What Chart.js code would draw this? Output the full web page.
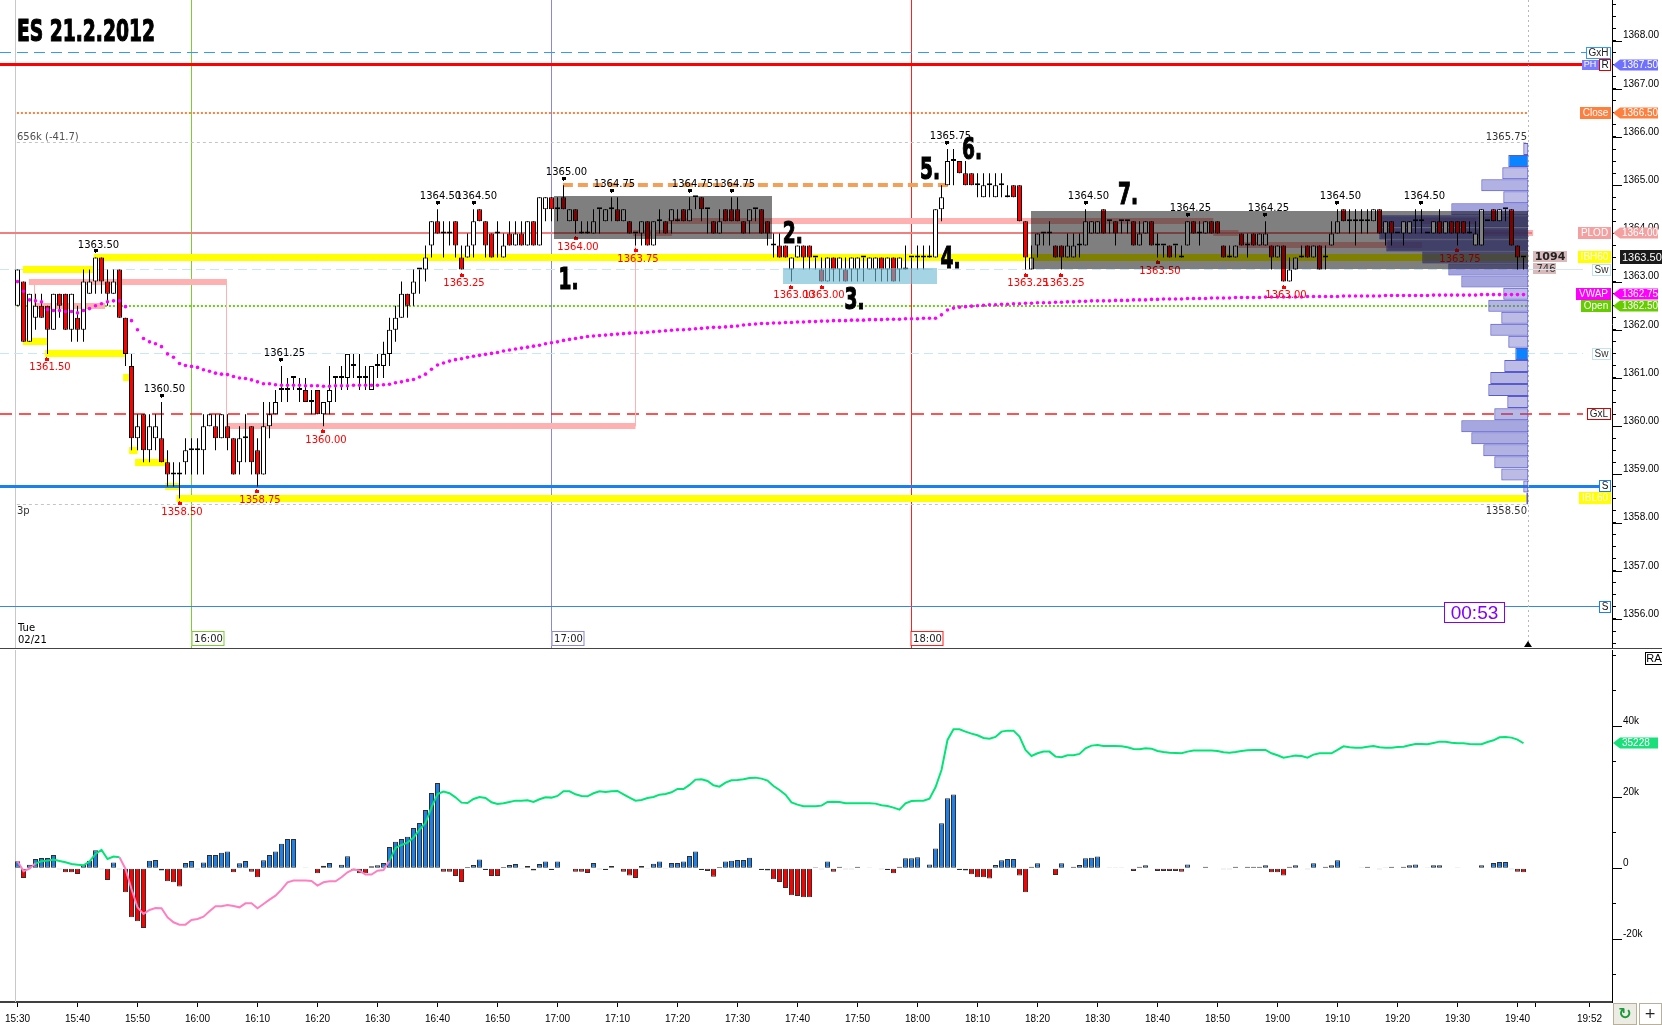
<!DOCTYPE html>
<html><head><meta charset="utf-8">
<script src="https://cdn.jsdelivr.net/npm/chart.js@4.4.1/dist/chart.umd.min.js"></script>
<style>
html,body{margin:0;padding:0;background:#fff;overflow:hidden}
#wrap{position:relative;width:1662px;height:1025px;background:#fff}
#top{position:absolute;left:0;top:0}
#bot{position:absolute;left:0;top:648px}
</style></head><body>
<div id="wrap">
<canvas id="top" width="1662" height="648"></canvas>
<canvas id="bot" width="1662" height="377"></canvas>
</div>
<script>
// ===== DATA (1-minute bars from 15:30) =====
const opens = [
1362.5,1363.0,1361.75,1362.25,1362.5,1362.5,1362.0,1362.75,1362.75,1362.0,1362.25,1362.0,
1362.75,1363.0,1363.5,1363.0,1362.75,1363.25,1362.25,1361.25,1359.75,1360.25,1359.5,1359.75,
1359.75,1359.25,1359.0,1359.0,1359.25,1359.5,1359.5,1359.5,1360.0,1360.0,1359.75,1360.0,
1359.75,1359.25,1359.75,1360.0,1359.5,1359.0,1360.0,1360.25,1360.75,1360.75,1361.0,1360.75,
1360.75,1360.5,1360.75,1360.25,1360.5,1361.0,1361.0,1361.0,1361.25,1361.0,1361.0,1360.75,
1361.25,1361.25,1361.5,1362.0,1362.25,1362.75,1362.75,1363.25,1363.25,1363.75,1364.25,1364.0,
1364.0,1364.25,1363.5,1363.5,1363.75,1364.5,1364.25,1364.0,1364.0,1363.5,1364.0,1363.75,
1364.0,1363.75,1364.25,1363.75,1364.5,1364.75,1364.5,1364.75,1364.25,1364.5,1364.0,1364.0,
1364.0,1364.5,1364.25,1364.5,1364.5,1364.25,1364.25,1364.0,1364.0,1364.25,1363.75,1364.25,
1364.25,1364.25,1364.25,1364.5,1364.25,1364.75,1364.75,1364.5,1364.25,1364.0,1364.5,1364.5,
1364.5,1364.25,1364.25,1364.5,1364.5,1364.25,1363.75,1363.75,1363.75,1363.25,1363.5,1363.75,
1363.75,1363.5,1363.25,1363.0,1363.5,1363.25,1363.25,1363.25,1363.25,1363.5,1363.25,1363.25,
1363.5,1363.25,1363.5,1363.25,1363.25,1363.5,1363.5,1363.5,1363.5,1363.5,1364.5,1365.0,
1365.5,1365.5,1365.25,1365.25,1365.0,1364.75,1365.0,1364.75,1365.0,1364.75,1365.0,1365.0,
1364.25,1363.25,1363.75,1364.0,1364.0,1363.75,1363.75,1363.5,1363.5,1363.75,1363.75,1364.0,
1364.0,1364.5,1364.25,1364.25,1364.25,1364.25,1364.25,1363.75,1364.0,1364.25,1363.75,1363.75,
1363.75,1363.75,1363.5,1363.75,1364.25,1364.0,1364.0,1364.25,1364.25,1363.75,1363.5,1363.5,
1364.0,1363.75,1364.0,1363.75,1363.75,1363.75,1363.5,1363.75,1363.0,1363.25,1363.5,1363.75,
1363.5,1363.75,1363.5,1363.75,1364.0,1364.5,1364.25,1364.25,1364.25,1364.25,1364.25,1364.5,
1364.0,1364.25,1364.0,1364.0,1364.0,1364.25,1364.25,1364.0,1364.0,1364.25,1364.0,1364.25,
1364.25,1364.25,1364.0,1363.75,1363.75,1364.25,1364.5,1364.25,1364.5,1364.5,1363.75,1363.5];
const highs = [
1363.25,1363.0,1362.75,1362.75,1362.75,1362.5,1362.75,1362.75,1362.75,1362.75,1362.5,1363.25,
1363.25,1363.5,1363.5,1363.25,1363.25,1363.25,1362.25,1361.5,1360.25,1360.25,1360.25,1360.25,
1360.5,1359.5,1359.25,1359.25,1359.75,1359.75,1359.75,1360.25,1360.25,1360.25,1360.25,1360.25,
1359.75,1360.0,1360.25,1360.0,1359.75,1360.5,1360.5,1360.75,1361.25,1361.0,1361.0,1361.0,
1361.0,1360.75,1360.75,1360.5,1361.25,1361.0,1361.25,1361.5,1361.5,1361.5,1361.25,1361.25,
1361.5,1361.75,1362.25,1362.5,1363.0,1362.75,1363.25,1363.25,1363.75,1364.25,1364.5,1364.25,
1364.25,1364.25,1363.75,1364.0,1364.5,1364.5,1364.25,1364.0,1364.25,1364.0,1364.25,1364.25,
1364.25,1364.25,1364.25,1364.75,1364.75,1364.75,1364.75,1365.0,1364.5,1364.5,1364.25,1364.25,
1364.5,1364.5,1364.5,1364.75,1364.75,1364.5,1364.25,1364.0,1364.25,1364.25,1364.25,1364.5,
1364.25,1364.5,1364.5,1364.5,1364.75,1364.75,1364.75,1364.5,1364.25,1364.5,1364.5,1364.75,
1364.75,1364.25,1364.5,1364.5,1364.5,1364.25,1364.0,1364.0,1363.75,1363.5,1363.75,1363.75,
1363.75,1363.5,1363.5,1363.5,1363.5,1363.5,1363.5,1363.5,1363.5,1363.5,1363.5,1363.5,
1363.5,1363.5,1363.5,1363.5,1363.75,1363.5,1363.75,1363.75,1363.75,1364.5,1365.0,1365.75,
1365.75,1365.5,1365.5,1365.25,1365.25,1365.25,1365.25,1365.25,1365.25,1365.0,1365.0,1365.0,
1364.25,1363.75,1364.0,1364.0,1364.25,1363.75,1363.75,1364.0,1364.0,1364.0,1364.5,1364.25,
1364.25,1364.5,1364.25,1364.25,1364.25,1364.25,1364.25,1364.25,1364.25,1364.25,1364.0,1363.75,
1363.75,1363.75,1363.75,1364.25,1364.25,1364.25,1364.25,1364.25,1364.25,1363.75,1363.75,1363.75,
1364.0,1364.0,1364.0,1364.0,1364.25,1363.75,1363.75,1363.75,1363.5,1363.5,1363.75,1363.75,
1363.75,1363.75,1363.75,1364.25,1364.5,1364.5,1364.5,1364.5,1364.5,1364.5,1364.5,1364.5,
1364.25,1364.25,1364.0,1364.25,1364.25,1364.5,1364.5,1364.0,1364.25,1364.5,1364.25,1364.25,
1364.25,1364.25,1364.25,1364.25,1364.5,1364.25,1364.5,1364.5,1364.5,1364.5,1363.75,1363.5];
const lows = [
1362.5,1361.75,1361.75,1362.0,1362.25,1361.5,1362.0,1362.25,1362.0,1361.75,1361.75,1361.75,
1362.75,1362.75,1362.75,1362.5,1362.75,1362.25,1361.25,1359.5,1359.5,1359.25,1359.25,1359.5,
1359.25,1358.75,1358.75,1358.5,1359.0,1359.0,1359.0,1359.0,1360.0,1359.5,1359.75,1359.5,
1359.0,1359.0,1359.25,1359.0,1358.75,1359.0,1359.75,1360.25,1360.5,1360.5,1360.75,1360.5,
1360.5,1360.25,1360.25,1360.0,1360.25,1360.5,1360.75,1360.75,1361.0,1360.75,1360.75,1360.75,
1361.0,1361.0,1361.25,1361.75,1362.25,1362.25,1362.5,1362.75,1363.0,1363.5,1364.0,1363.5,
1363.75,1363.5,1363.25,1363.5,1363.5,1364.25,1363.5,1363.5,1363.5,1363.5,1363.75,1363.75,
1363.75,1363.75,1363.75,1363.75,1364.25,1364.25,1364.25,1364.5,1364.25,1364.0,1364.0,1364.0,
1364.0,1364.0,1364.25,1364.25,1364.25,1364.25,1364.0,1363.75,1363.75,1363.75,1363.75,1364.0,
1364.0,1364.0,1364.25,1364.25,1364.25,1364.5,1364.25,1364.0,1364.0,1364.0,1364.25,1364.25,
1364.25,1364.0,1364.0,1364.25,1364.0,1363.75,1363.5,1363.5,1363.5,1363.0,1363.5,1363.25,
1363.25,1363.25,1363.0,1363.0,1363.0,1363.0,1363.0,1363.0,1363.0,1363.0,1363.25,1363.0,
1363.0,1363.0,1363.0,1363.0,1363.25,1363.25,1363.25,1363.25,1363.5,1363.5,1364.25,1365.0,
1365.0,1365.25,1365.0,1365.0,1364.75,1364.75,1364.75,1364.75,1364.75,1364.75,1364.75,1364.25,
1363.25,1363.25,1363.5,1363.75,1363.75,1363.5,1363.25,1363.5,1363.5,1363.5,1363.75,1364.0,
1364.0,1364.0,1364.0,1363.75,1364.0,1364.0,1363.75,1363.75,1364.0,1363.75,1363.5,1363.5,
1363.5,1363.5,1363.5,1363.75,1364.0,1363.75,1364.0,1364.0,1364.0,1363.5,1363.5,1363.5,
1363.75,1363.5,1363.75,1363.75,1363.75,1363.25,1363.5,1363.0,1363.0,1363.25,1363.5,1363.5,
1363.5,1363.25,1363.25,1363.75,1364.0,1364.25,1364.0,1363.75,1364.0,1364.0,1364.25,1364.0,
1363.75,1363.75,1364.0,1363.75,1364.0,1364.0,1364.0,1364.0,1364.0,1364.0,1364.0,1364.0,
1363.75,1364.0,1364.0,1363.75,1363.75,1364.25,1364.25,1364.25,1364.25,1363.75,1363.25,1363.25];
const closes = [
1363.25,1361.75,1362.75,1362.5,1362.25,1362.0,1362.75,1362.5,1362.0,1362.75,1362.0,1363.0,
1363.0,1363.5,1363.0,1362.75,1363.0,1362.25,1361.5,1359.75,1360.0,1359.5,1360.0,1360.0,
1359.25,1359.0,1359.0,1359.0,1359.5,1359.5,1359.5,1360.0,1360.25,1359.75,1360.25,1359.75,
1359.0,1359.75,1359.75,1359.25,1359.0,1360.0,1360.25,1360.5,1360.75,1360.75,1361.0,1360.75,
1360.5,1360.5,1360.25,1360.5,1360.75,1361.0,1361.0,1361.5,1361.25,1361.0,1361.0,1361.25,
1361.25,1361.5,1362.0,1362.25,1362.75,1362.5,1363.0,1363.25,1363.5,1364.25,1364.0,1364.0,
1364.0,1363.75,1363.25,1363.75,1364.25,1364.25,1363.75,1363.5,1364.0,1363.75,1363.75,1364.0,
1363.75,1364.25,1363.75,1364.75,1364.75,1364.5,1364.5,1364.5,1364.5,1364.25,1364.0,1364.0,
1364.25,1364.5,1364.5,1364.5,1364.25,1364.5,1364.0,1364.0,1364.25,1363.75,1364.25,1364.25,
1364.0,1364.5,1364.25,1364.25,1364.5,1364.75,1364.5,1364.5,1364.0,1364.25,1364.25,1364.25,
1364.25,1364.0,1364.5,1364.5,1364.0,1364.0,1363.75,1363.5,1363.5,1363.5,1363.75,1363.5,
1363.5,1363.5,1363.0,1363.5,1363.25,1363.5,1363.0,1363.5,1363.5,1363.5,1363.5,1363.5,
1363.25,1363.5,1363.0,1363.5,1363.25,1363.5,1363.5,1363.5,1363.5,1364.5,1364.75,1365.5,
1365.5,1365.25,1365.0,1365.0,1365.0,1365.0,1365.0,1365.0,1365.0,1364.75,1364.75,1364.25,
1363.5,1363.5,1364.0,1364.0,1364.0,1363.5,1363.5,1363.75,1363.75,1363.75,1364.25,1364.25,
1364.25,1364.0,1364.25,1364.0,1364.25,1364.25,1363.75,1364.0,1364.25,1363.75,1363.75,1363.75,
1363.5,1363.75,1363.5,1364.25,1364.0,1364.0,1364.25,1364.0,1364.0,1363.5,1363.5,1363.75,
1363.75,1363.75,1363.75,1364.0,1364.0,1363.5,1363.75,1363.0,1363.25,1363.5,1363.5,1363.5,
1363.75,1363.25,1363.5,1364.0,1364.25,1364.25,1364.25,1364.25,1364.25,1364.25,1364.5,1364.0,
1364.25,1364.0,1364.0,1364.25,1364.25,1364.25,1364.25,1364.0,1364.25,1364.0,1364.25,1364.0,
1364.0,1364.0,1364.0,1364.0,1364.5,1364.25,1364.25,1364.5,1364.5,1363.75,1363.5,1363.5];
const vwap = [
1363.0,1362.8,1362.62,1362.6,1362.58,1362.42,1362.4,1362.4,1362.38,1362.38,1362.35,1362.4,
1362.44,1362.5,1362.54,1362.58,1362.6,1362.6,1362.48,1362.19,1362.0,1361.82,1361.75,1361.71,
1361.65,1361.5,1361.43,1361.3,1361.26,1361.24,1361.22,1361.17,1361.14,1361.1,1361.08,1361.07,
1361.03,1361.0,1360.99,1360.96,1360.92,1360.88,1360.88,1360.86,1360.85,1360.85,1360.85,1360.85,
1360.84,1360.84,1360.84,1360.83,1360.83,1360.84,1360.84,1360.84,1360.85,1360.85,1360.85,1360.85,
1360.85,1360.86,1360.87,1360.9,1360.92,1360.95,1360.97,1361.02,1361.08,1361.18,1361.27,1361.31,
1361.35,1361.38,1361.4,1361.43,1361.45,1361.47,1361.49,1361.51,1361.53,1361.56,1361.58,1361.6,
1361.62,1361.64,1361.66,1361.68,1361.71,1361.73,1361.75,1361.78,1361.8,1361.82,1361.84,1361.86,
1361.87,1361.88,1361.89,1361.9,1361.91,1361.92,1361.93,1361.94,1361.94,1361.95,1361.96,1361.97,
1361.98,1361.99,1362.0,1362.0,1362.01,1362.02,1362.03,1362.04,1362.05,1362.05,1362.06,1362.07,
1362.08,1362.1,1362.11,1362.12,1362.13,1362.13,1362.14,1362.14,1362.15,1362.15,1362.16,1362.16,
1362.17,1362.17,1362.18,1362.18,1362.19,1362.19,1362.19,1362.2,1362.2,1362.2,1362.21,1362.21,
1362.21,1362.22,1362.22,1362.22,1362.23,1362.23,1362.23,1362.24,1362.24,1362.24,1362.31,1362.41,
1362.45,1362.47,1362.48,1362.49,1362.5,1362.51,1362.52,1362.52,1362.53,1362.53,1362.54,1362.54,
1362.55,1362.55,1362.56,1362.56,1362.56,1362.57,1362.57,1362.58,1362.58,1362.59,1362.59,1362.6,
1362.6,1362.6,1362.6,1362.61,1362.61,1362.61,1362.62,1362.62,1362.62,1362.63,1362.63,1362.64,
1362.64,1362.64,1362.64,1362.65,1362.65,1362.65,1362.65,1362.66,1362.66,1362.66,1362.66,1362.67,
1362.67,1362.67,1362.67,1362.67,1362.68,1362.68,1362.68,1362.68,1362.68,1362.68,1362.68,1362.69,
1362.69,1362.69,1362.69,1362.69,1362.69,1362.7,1362.7,1362.7,1362.7,1362.7,1362.7,1362.7,
1362.71,1362.71,1362.71,1362.71,1362.71,1362.71,1362.71,1362.71,1362.72,1362.72,1362.72,1362.72,
1362.72,1362.72,1362.72,1362.72,1362.73,1362.73,1362.73,1362.73,1362.73,1362.73,1362.73,1362.73];
const barDelta = [
2000,-2700,1000,2600,2900,2900,3750,-300,-1100,-1100,-1600,1000,
2150,5100,-300,-3300,1600,-300,-6750,-13800,-14900,-16800,2150,2350,
-650,-3650,-3950,-5100,1500,2050,-300,1600,3750,3750,4400,4700,
-1100,1400,2050,-950,-2500,2250,3750,4700,6950,8250,8250,null,
100,null,-1400,750,1500,null,1000,3400,-650,-1400,-1400,560,
850,1500,6000,7500,8250,8900,11350,12750,16400,21200,24000,-1000,
-1000,-2150,-3850,400,950,2450,-450,-2150,-2150,400,950,1200,
-200,650,-650,1200,1900,-450,1900,null,null,-1000,-1000,-1300,
1500,-300,-450,650,null,-1000,-2050,-2700,650,-200,1300,1900,
-200,1500,1500,1900,3500,4700,-450,-750,-2350,400,1900,2150,
2350,2350,3000,null,-450,-650,-3100,-3850,-5550,-7600,-7800,-8150,
-8150,300,-300,1900,-950,450,-300,-300,450,-100,100,null,
-300,-450,-1400,450,2800,2800,3100,-100,1100,5600,12700,19700,
20800,-450,-650,-1700,-2500,-2500,-2900,950,2250,2600,2600,-2050,
-6750,450,1400,null,-100,-1900,1400,null,450,950,2800,3000,
3300,null,100,100,100,-100,-750,450,850,-100,-750,-750,
-750,-750,-950,1050,null,null,450,null,null,-300,-300,450,
null,450,450,450,850,-1100,-1100,-2000,450,850,null,-300,
1400,-100,450,850,2250,null,null,-100,100,450,null,-300,
100,450,null,450,850,1050,null,100,850,850,null,-100,
100,-100,-100,-100,850,null,1500,1800,1800,-300,-950,-1100];
const cumDelta = [
1970,-800,-100,1400,1970,2160,2440,2070,1700,1220,1030,850,
1880,4040,5160,2630,3290,3100,-190,-5820,-10990,-12860,-11740,-11170,
-11270,-13800,-15210,-15870,-15870,-14550,-14270,-13620,-12110,-10700,-10700,-10330,
-10610,-10990,-9860,-9860,-11270,-10050,-8830,-7700,-6010,-3940,-3470,-3470,
-3470,-3570,-4880,-3940,-3660,-3660,-2540,-1130,-280,-660,-1780,-1780,
-660,-470,2160,5730,6570,7230,8640,10890,12770,17180,20940,21600,
21130,20000,18500,18400,19530,20090,19810,18590,18120,18310,18690,19060,
19060,19160,18690,19440,20000,19910,20380,21690,21690,20850,20380,20280,
21130,21690,21500,21690,21780,20850,19910,19060,19250,19810,20090,20750,
20940,21410,22350,22350,23480,24980,25070,24600,23380,23010,24130,24790,
24880,25070,25450,25540,25260,24700,23190,22070,20750,18590,17930,17470,
17470,17470,17650,18690,18780,18690,18310,18310,18310,18310,18310,18220,
17750,17560,17090,16530,18310,18970,19060,19060,19630,22820,27700,36150,
39160,39160,38500,37940,37470,36710,36530,37000,38500,38780,38780,37090,
33330,31640,32400,32870,32870,31460,31270,31830,31830,32210,33800,34560,
34740,34460,34460,34460,34370,34090,33620,33520,33800,33710,33050,32770,
32580,32490,32400,32870,33150,33150,33150,33150,33050,32680,32580,32770,
33050,33240,33340,33340,33340,32400,31830,31170,31460,31740,31640,31170,
32020,32400,32400,32400,33340,34370,34090,33990,33990,34270,34460,34090,
33990,33990,34180,34270,34650,35020,35020,34930,35300,35680,35680,35400,
35210,35210,35020,34930,34930,35590,36060,36900,36990,36810,36250,35228];
// volume profile (right edge)
const profilePrices = [1365.75,1365.5,1365.25,1365.0,1364.75,1364.5,1364.25,1364.0,1363.75,1363.5,1363.25,1363.0,1362.75,1362.5,1362.25,1362.0,1361.75,1361.5,1361.25,1361.0,1360.75,1360.5,1360.25,1360.0,1359.75,1359.5,1359.25,1359.0,1358.75,1358.5];
const profileVol    = [5,20,26,47,25,77,149,149,142,106,80,67,25,40,27,38,20,13,24,38,40,21,34,67,57,45,34,27,5,2];
const profileSpikes = [1365.5,1361.5];
// swing labels
const hiIdx = [13,24,44,70,76,91,99,112,119,155,178,195,208,220,234];
const loIdx = [5,27,40,51,74,93,103,129,134,168,174,190,211,240];
// numbered annotations
const stepText = ['1.','2.','3.','4.','5.','6.','7.'];
const stepIdx  = [91.85,129.2,139.5,155.5,152.1,159.1,185.1];
const stepPrice= [1363.075,1364.035,1362.653,1363.517,1365.35,1365.77,1364.84];
// reference levels
const gxh = 1367.75, phr = 1367.5, prevClose = 1366.5, dayHigh = 1365.75, orangeLvl = 1365.0, plod = 1364.0,
      ibh60 = 1363.5, swHi = 1363.25, vwapNow = 1362.75, openPx = 1362.5, swLo = 1361.5, gxl = 1360.25,
      sup1 = 1358.75, ibl60 = 1358.5, dayLow = 1358.5, sup2 = 1356.25, lastPx = 1363.5, lastDelta = 35228;
// pink stop bands [fromIdx, toIdx, price]
const pinkBands = [[1.9,34.9,1363.0],[2.9,14.6,1362.5],[34.9,103.0,1360.0],[102.6,109.1,1364.0],[108.4,199.3,1364.25],[199.3,203.5,1364.0],[203.5,234.1,1363.75],[234.1,243.1,1364.25],[243.1,252.6,1364.0]];
const pinkVerts = [[2.9,1363.0,1362.5],[34.9,1363.0,1360.0],[103.0,1360.0,1364.0]];
// yellow IB bands [fromIdx, toIdx, price]
const yellowBands = [[0.9,12.9,1363.25],[0.9,5.0,1361.75],[4.6,17.9,1361.5],[17.6,18.9,1361.0],[18.6,20.0,1359.5],[19.6,25.0,1359.25],[24.6,27.1,1358.75],[26.5,251.8,ibl60],[12.7,251.8,ibh60]];
// shaded boxes [fromIdx, toIdx, lowPrice, highPrice]
const grayBoxes = [[89.4,125.75,1363.89,1364.775],[168.9,251.8,1363.26,1364.465]];
const blueBox = [127.6,153.3,1362.96,1363.29];
const orangeSeg = [90.9,155.9];
// session time markers
const sessionIdx = [29,89,149];
const sessionText = ['16:00','17:00','18:00'];
const sessionColor = ['#7CCD32','#8A8AD0','#FF2020'];
const firstLineIdx = -0.25, lastBarEdge = 251.8;
// axis ticks
const majorPrices = [1356,1357,1358,1359,1360,1361,1362,1363,1364,1365,1366,1367,1368];
const timeTicks  = [0,10,20,30,40,50,60,70,80,90,100,110,120,130,140,150,160,170,180,190,200,210,220,230,240,250,253,262];
const timeLabels = ['15:30','15:40','15:50','16:00','16:10','16:20','16:30','16:40','16:50','17:00','17:10','17:20','17:30','17:40','17:50','18:00','18:10','18:20','18:30','18:40','18:50','19:00','19:10','19:20','19:30','19:40','','19:52'];
const deltaTicks = [-30000,-20000,-10000,0,10000,20000,30000,40000,50000,60000];
const deltaLabels = {'-20000':'-20k','0':'0','20000':'20k','40000':'40k'};

// ===== helpers =====
const idx = opens.map((_, i) => i);
const xMin = -17.5/6, xMax = (1612-17.5)/6;
const priceTicks = [];
for (let v = 1355.5; v <= 1368.75; v += 0.25) priceTicks.push(v);
const isInt = v => Math.abs(v - Math.round(v)) < 1e-6;
const F = (px, fam, w) => (w ? w + ' ' : '') + px + 'px "' + (fam || 'DejaVu Sans') + '"';
const zeroPad = s => { s.paddingTop = 0; s.paddingBottom = 0; s.paddingLeft = 0; s.paddingRight = 0; };

function seg(ctx, x0, x1, y, color, w, dash) {
  ctx.save(); ctx.strokeStyle = color; ctx.lineWidth = w; ctx.setLineDash(dash || []);
  const yy = (w % 2 === 1) ? Math.round(y - 0.5) + 0.5 : Math.round(y);
  ctx.beginPath(); ctx.moveTo(x0, yy); ctx.lineTo(x1, yy); ctx.stroke(); ctx.restore();
}
function vseg(ctx, x, y0, y1, color, w, dash) {
  ctx.save(); ctx.strokeStyle = color; ctx.lineWidth = w; ctx.setLineDash(dash || []);
  const xx = Math.round(x - 0.5) + 0.5;
  ctx.beginPath(); ctx.moveTo(xx, y0); ctx.lineTo(xx, y1); ctx.stroke(); ctx.restore();
}
function txt(ctx, s, x, y, font, color, align, base) {
  ctx.save(); ctx.font = font; ctx.fillStyle = color; ctx.textAlign = align || 'left'; ctx.textBaseline = base || 'middle';
  ctx.fillText(s, x, y); ctx.restore();
}
function impact(ctx, s, x, baseY, px, sx, align) {
  ctx.save(); ctx.translate(x, baseY); ctx.scale(sx, 1);
  ctx.font = F(px, 'DejaVu Sans', 'bold'); ctx.fillStyle = '#000'; ctx.textAlign = align || 'center'; ctx.textBaseline = 'alphabetic';
  ctx.lineWidth = 1.2; ctx.strokeStyle = '#000'; ctx.strokeText(s, 0, 0);
  ctx.fillText(s, 0, 0); ctx.restore();
}
function boxLabel(ctx, y, text, bg, border, fg) {
  ctx.save(); ctx.font = F(10, 'Liberation Sans');
  const w = Math.ceil(ctx.measureText(text).width) + 5; const x = 1611 - w; const top = Math.round(y - 6);
  ctx.beginPath(); ctx.rect(1560, 0, 51, 648); ctx.clip();
  ctx.fillStyle = bg; ctx.fillRect(x, top, w, 12);
  if (border) { ctx.strokeStyle = border; ctx.lineWidth = 1; ctx.strokeRect(x + 0.5, top + 0.5, w - 1, 11); }
  ctx.fillStyle = fg; ctx.textAlign = 'center'; ctx.textBaseline = 'middle'; ctx.fillText(text, x + w/2, top + 6.5);
  ctx.restore();
}
function smallBox(ctx, x, y, text, border) {
  const top = Math.round(y - 6);
  ctx.save(); ctx.fillStyle = '#fff'; ctx.fillRect(x, top, 12, 12);
  ctx.strokeStyle = border; ctx.lineWidth = 1; ctx.strokeRect(x + 0.5, top + 0.5, 11, 11);
  ctx.font = F(10, 'Liberation Sans'); ctx.fillStyle = '#111'; ctx.textAlign = 'center'; ctx.textBaseline = 'middle';
  ctx.fillText(text, x + 6, top + 6.5); ctx.restore();
}
function arrowTag(ctx, y, text, bg, fg) {
  const x0 = 1613, h = 11, t = Math.round(y) - 5.5;
  ctx.save(); ctx.fillStyle = bg; ctx.beginPath();
  ctx.moveTo(x0, t + h/2); ctx.lineTo(x0 + 7, t); ctx.lineTo(1658, t); ctx.lineTo(1658, t + h); ctx.lineTo(x0 + 7, t + h); ctx.closePath(); ctx.fill();
  ctx.font = F(10, 'Liberation Sans'); ctx.fillStyle = fg; ctx.textAlign = 'left'; ctx.textBaseline = 'middle';
  ctx.fillText(text, 1622, t + h/2 + 0.5); ctx.restore();
}

// ===== top plugin =====
const topPlugin = {
  id: 'topDecor',
  beforeDatasetsDraw(chart) {
    const { ctx, chartArea: a } = chart;
    const X = v => chart.scales.x.getPixelForValue(v), Y = v => chart.scales.y.getPixelForValue(v);
    ctx.save();
    ctx.beginPath(); ctx.rect(a.left, a.top, a.right - a.left, a.bottom - a.top); ctx.clip();
    vseg(ctx, X(firstLineIdx), a.top, a.bottom, '#C8C8C8', 1);
    sessionIdx.forEach((s, k) => vseg(ctx, X(s), a.top, a.bottom, sessionColor[k], 1));
    seg(ctx, 0, 1586, Y(gxh), '#3399FF', 1, [11, 6]);
    seg(ctx, X(-0.1), 1528, Y(prevClose), '#FF7F3F', 2, [2, 2]);
    seg(ctx, X(-0.1), 1528, Y(dayHigh) - 7, '#C4C4C4', 1, [3, 3]);
    seg(ctx, X(-0.1), 1528, Y(dayLow) + 6, '#C4C4C4', 1, [3, 3]);
    seg(ctx, 0, 1583, Y(swHi), '#C8E6F6', 1, [9, 5]);
    seg(ctx, 0, 1583, Y(swLo), '#C8E6F6', 1, [9, 5]);
    seg(ctx, X(-0.1), 1528, Y(openPx), '#6ACD1A', 2, [2, 2]);
    seg(ctx, 0, 1583, Y(gxl), '#FF1A1A', 1.5, [12, 7]);
    seg(ctx, 0, 1600, Y(sup2), '#3A86E8', 1);
    pinkVerts.forEach(p => vseg(ctx, X(p[0]), Y(p[1]), Y(p[2]), '#FFB0B0', 1));
    pinkBands.forEach(p => seg(ctx, X(p[0]), X(p[1]), Y(p[2]), '#FFB0B0', 6));
    yellowBands.forEach(p => seg(ctx, X(p[0]), X(p[1]), Y(p[2]), '#FFFF00', 7));
    seg(ctx, 0, 1532, Y(plod), '#F08080', 2);
    seg(ctx, 0, 1600, Y(sup1), '#1A80F0', 3);
    seg(ctx, 0, 1598, Y(phr), '#FF0000', 3);
    seg(ctx, X(orangeSeg[0]), X(orangeSeg[1]), Y(orangeLvl), '#F5A05A', 4, [10, 5]);
    vseg(ctx, X(lastBarEdge), a.top, a.bottom, '#B8B8B8', 1, [2, 3]);
    ctx.restore();
  },
  afterDatasetsDraw(chart) {
    const { ctx, chartArea: a } = chart;
    const X = v => chart.scales.x.getPixelForValue(v), Y = v => chart.scales.y.getPixelForValue(v);
    ctx.save();
    ctx.beginPath(); ctx.rect(a.left, a.top, a.right - a.left, a.bottom - a.top); ctx.clip();
    hiIdx.forEach(i => {
      const px = X(i), py = Y(highs[i]);
      ctx.fillStyle = '#000'; ctx.fillRect(Math.round(px) - 2, Math.round(py) - 8, 4, 3); ctx.fillRect(Math.round(px) - 1, Math.round(py) - 5, 1, 1);
      txt(ctx, highs[i].toFixed(2), px + 3, py - 12.5, F(10), '#000', 'center');
    });
    loIdx.forEach(i => {
      const px = X(i), py = Y(lows[i]);
      ctx.fillStyle = '#FF0000'; ctx.fillRect(Math.round(px) - 2, Math.round(py) + 4, 4, 3); ctx.fillRect(Math.round(px) - 1, Math.round(py) + 3, 1, 1);
      txt(ctx, lows[i].toFixed(2), px + 2.5, py + 14, F(10), '#FF0000', 'center');
    });
    ctx.fillStyle = 'rgba(0,0,0,0.5)';
    grayBoxes.forEach(b => { const x0 = Math.round(X(b[0])), x1 = Math.round(X(b[1])), y0 = Math.round(Y(b[3])), y1 = Math.round(Y(b[2])); ctx.fillRect(x0, y0, x1 - x0, y1 - y0); });
    ctx.fillStyle = 'rgba(110,185,212,0.62)';
    { const b = blueBox; const x0 = Math.round(X(b[0])), x1 = Math.round(X(b[1])), y0 = Math.round(Y(b[3])), y1 = Math.round(Y(b[2])); ctx.fillRect(x0, y0, x1 - x0, y1 - y0); }
    stepText.forEach((s, k) => impact(ctx, s, X(stepIdx[k]), Y(stepPrice[k]) + 11, 30, 0.62));
    ctx.save(); ctx.font = F(30, 'DejaVu Sans', 'bold'); const tw = ctx.measureText('ES 21.2.2012').width; ctx.restore();
    impact(ctx, 'ES 21.2.2012', 17, 41, 30, 138 / tw, 'left');
    txt(ctx, '656k (-41.7)', 17, 137, F(10), '#505050');
    txt(ctx, dayHigh.toFixed(2), 1527, 137, F(10), '#333', 'right');
    txt(ctx, dayLow.toFixed(2), 1527, 511, F(10), '#333', 'right');
    txt(ctx, '3p', 17, 511, F(10), '#333');
    txt(ctx, 'Tue', 18, 628, F(10), '#000');
    txt(ctx, '02/21', 18, 640, F(10), '#000');
    sessionIdx.forEach((s, k) => {
      const x = Math.round(X(s)) - 0.5;
      ctx.fillStyle = '#fff'; ctx.fillRect(x, 631, 33, 15);
      ctx.strokeStyle = sessionColor[k]; ctx.lineWidth = 1; ctx.strokeRect(x + 0.5, 631.5, 32, 14);
      txt(ctx, sessionText[k], x + 17, 639, F(10), '#222', 'center');
    });
    ctx.fillStyle = '#D9BABA'; ctx.fillRect(1533, 251, 34, 11); ctx.fillRect(1533, 263, 23, 11);
    txt(ctx, '1094', 1550, 257, F(11, 'DejaVu Sans', 'bold'), '#222', 'center');
    txt(ctx, '746', 1546, 269, F(10), '#333', 'center');
    seg(ctx, 1533, 1583, Y(swHi), '#D8E8F0', 1);
    ctx.fillStyle = '#fff'; ctx.fillRect(1444, 602, 61, 21);
    ctx.strokeStyle = '#8000FF'; ctx.lineWidth = 1; ctx.strokeRect(1444.5, 602.5, 60, 20);
    txt(ctx, '00:53', 1474.5, 613.5, F(19, 'Liberation Sans'), '#7F00FF', 'center');
    ctx.fillStyle = '#000'; ctx.beginPath(); const tx = Math.round(X(lastBarEdge));
    ctx.moveTo(tx - 4, 647); ctx.lineTo(tx + 4, 647); ctx.lineTo(tx, 641); ctx.closePath(); ctx.fill();
    ctx.restore();
  },
  afterDraw(chart) {
    const { ctx } = chart;
    const Y = v => chart.scales.y.getPixelForValue(v);
    ctx.save();
    ctx.strokeStyle = '#000'; ctx.lineWidth = 1;
    majorPrices.forEach(p => { const y = Math.round(Y(p)) + 0.5; ctx.beginPath(); ctx.moveTo(1612, y); ctx.lineTo(1622, y); ctx.stroke(); });
    boxLabel(ctx, Y(gxh), 'GxH', '#fff', '#3399FF', '#222');
    ctx.fillStyle = '#7B7BFF'; ctx.fillRect(1582, Math.round(Y(phr)) - 5, 18, 10);
    txt(ctx, 'PH', 1590, Y(phr), F(9, 'Liberation Sans'), '#fff', 'center');
    smallBox(ctx, 1599, Y(phr), 'R', '#E00000');
    boxLabel(ctx, Y(prevClose), 'Close', '#FF7F3F', null, '#fff');
    boxLabel(ctx, Y(plod), 'PLOD', '#F4A0A0', null, '#fff');
    boxLabel(ctx, Y(ibh60), 'IBH60', '#FFFF00', null, '#fff');
    boxLabel(ctx, Y(swHi), 'Sw', '#fff', '#BFE3F5', '#333');
    boxLabel(ctx, Y(vwapNow), 'VWAP', '#FF00FF', null, '#fff');
    boxLabel(ctx, Y(openPx), 'Open', '#66CC00', null, '#fff');
    boxLabel(ctx, Y(swLo), 'Sw', '#fff', '#BFE3F5', '#333');
    boxLabel(ctx, Y(gxl), 'GxL', '#fff', '#E00000', '#222');
    smallBox(ctx, 1599, Y(sup1), 'S', '#1A80F0');
    boxLabel(ctx, Y(ibl60), 'IBL60', '#FFFF00', null, '#fff');
    smallBox(ctx, 1599, Y(sup2), 'S', '#1A80F0');
    arrowTag(ctx, Y(phr), phr.toFixed(2), '#7070FF', '#fff');
    arrowTag(ctx, Y(prevClose), prevClose.toFixed(2), '#FF7F3F', '#fff');
    arrowTag(ctx, Y(plod), plod.toFixed(2), '#F4A0A0', '#fff');
    arrowTag(ctx, Y(vwapNow), vwapNow.toFixed(2), '#FF00FF', '#fff');
    arrowTag(ctx, Y(openPx), openPx.toFixed(2), '#66CC00', '#fff');
    const ly = Math.round(Y(lastPx));
    ctx.fillStyle = '#1A1A1A'; ctx.fillRect(1620, ly - 7, 42, 14);
    txt(ctx, lastPx.toFixed(2), 1622, ly + 0.5, F(11, 'Liberation Sans'), '#fff', 'left');
    ctx.restore();
  }
};

const topChart = new Chart(document.getElementById('top'), {
  type: 'bar',
  data: { datasets: [
    { label: 'VWAP', type: 'line', data: idx.map(i => ({ x: i, y: vwap[i] })), xAxisID: 'x', yAxisID: 'y',
      showLine: false, pointRadius: 1.8, pointHoverRadius: 0, pointBackgroundColor: '#FF00FF', pointBorderWidth: 0, order: 1 },
    { label: 'Bodies', data: idx.map(i => ({ x: i, y: [opens[i], closes[i]] })), xAxisID: 'x', yAxisID: 'y',
      barThickness: 5, minBarLength: 2, grouped: false, borderWidth: 1, borderSkipped: false, inflateAmount: 0,
      borderColor: '#000', backgroundColor: c => closes[c.dataIndex] >= opens[c.dataIndex] ? '#FFFFFF' : '#FF0000', order: 2 },
    { label: 'Wicks', data: idx.map(i => ({ x: i, y: [lows[i], highs[i]] })), xAxisID: 'x', yAxisID: 'y',
      barThickness: 1, grouped: false, borderWidth: 0, inflateAmount: 0, backgroundColor: '#000', order: 3 },
    { label: 'Profile', indexAxis: 'y', data: profilePrices.map((p, k) => ({ x: profileVol[k], y: p })), xAxisID: 'xv', yAxisID: 'y',
      barThickness: 12, grouped: false, borderWidth: 1, borderSkipped: false, inflateAmount: 0, borderColor: '#5A5ACC',
      backgroundColor: c => {
        const k = c.dataIndex; if (profileSpikes.includes(profilePrices[k])) return '#0A84FF';
        const al = 0.33 + 0.45 * profileVol[k] / 149; return 'rgba(90,90,195,' + al.toFixed(3) + ')';
      }, order: 4 }
  ]},
  options: {
    responsive: false, animation: false, devicePixelRatio: 1, events: [],
    layout: { padding: 0, autoPadding: false },
    plugins: { legend: { display: false }, tooltip: { enabled: false } },
    scales: {
      x: { type: 'linear', min: xMin, max: xMax, display: false, offset: false, bounds: 'data', grid: { offset: false }, ticks: { display: false }, afterFit: zeroPad },
      xv: { type: 'linear', axis: 'x', min: -83.7, max: 1528.3, reverse: true, display: false, offset: false, bounds: 'data', ticks: { display: false }, afterFit: zeroPad },
      y: { type: 'linear', position: 'right', min: 1355.398, max: 1368.842, offset: false, bounds: 'data',
        afterBuildTicks: s => { s.ticks = priceTicks.map(v => ({ value: v })); },
        afterFit: s => { s.width = 50; zeroPad(s); },
        ticks: { autoSkip: false, callback: v => isInt(v) ? Number(v).toFixed(2) : '', font: { family: 'Liberation Sans', size: 10 }, color: '#000', padding: 7, labelOffset: -5 },
        grid: { drawOnChartArea: false, tickLength: 4, tickColor: '#000', offset: false },
        border: { display: true, color: '#000', width: 1 } }
    }
  },
  plugins: [topPlugin]
});

// ===== bottom panel =====
const botPlugin = {
  id: 'botDecor',
  beforeDatasetsDraw(chart) {
    const { ctx, chartArea: a } = chart; const X = v => chart.scales.x.getPixelForValue(v);
    vseg(ctx, X(firstLineIdx), a.top, a.bottom, '#C8C8C8', 1);
  },
  afterDraw(chart) {
    const { ctx } = chart; const Y = v => chart.scales.y.getPixelForValue(v);
    ctx.save();
    ctx.strokeStyle = '#444'; ctx.lineWidth = 2; ctx.beginPath(); ctx.moveTo(0, 0); ctx.lineTo(1662, 0); ctx.stroke();
    [-20000, 0, 20000, 40000].forEach(v => { const y = Math.round(Y(v)) + 0.5; ctx.strokeStyle = '#000'; ctx.lineWidth = 1; ctx.beginPath(); ctx.moveTo(1612, y); ctx.lineTo(1622, y); ctx.stroke(); });
    arrowTag(ctx, Y(lastDelta), String(lastDelta), '#19E07A', '#fff');
    ctx.fillStyle = '#fff'; ctx.fillRect(1645, 4, 17, 13); ctx.strokeStyle = '#000'; ctx.lineWidth = 1; ctx.strokeRect(1645.5, 4.5, 17, 12);
    txt(ctx, 'RA', 1654, 11, F(11, 'Liberation Sans'), '#000', 'center');
    ctx.fillStyle = '#ECECE4'; ctx.fillRect(1613, 355, 24, 22); ctx.strokeStyle = '#B8B09A'; ctx.strokeRect(1613.5, 355.5, 23, 21);
    txt(ctx, '\u21BB', 1625, 367, F(16, 'DejaVu Sans', 'bold'), '#1A9A3A', 'center');
    ctx.strokeRect(1639.5, 355.5, 22, 21);
    txt(ctx, '+', 1650, 366, F(14, 'DejaVu Sans'), '#222', 'center');
    ctx.restore();
  }
};
const botChart = new Chart(document.getElementById('bot'), {
  type: 'bar',
  data: { datasets: [
    { label: 'Cumulative delta', type: 'line', data: idx.map(i => ({ x: i, y: cumDelta[i] })), borderWidth: 2, pointRadius: 0, pointHoverRadius: 0,
      borderColor: '#00E676', segment: { borderColor: c => (c.p0.parsed.y < 0 || c.p1.parsed.y < 0) ? '#FF80C0' : '#00E676' },
      tension: 0, order: 1 },
    { label: 'Delta', data: idx.map(i => ({ x: i, y: barDelta[i] })), barThickness: 5, grouped: false, borderWidth: 1,
      borderSkipped: false, inflateAmount: 0, borderColor: '#303030',
      backgroundColor: c => { const v = barDelta[c.dataIndex]; if (v == null) return '#000'; return Math.abs(v) < 500 ? '#808080' : (v > 0 ? '#1F80E8' : '#FF0000'); }, order: 2 }
  ]},
  options: {
    responsive: false, animation: false, devicePixelRatio: 1, events: [],
    layout: { padding: { top: 2, left: 0, right: 0, bottom: 0 }, autoPadding: false },
    plugins: { legend: { display: false }, tooltip: { enabled: false } },
    scales: {
      x: { type: 'linear', min: xMin, max: xMax, offset: false, bounds: 'data',
        afterBuildTicks: s => { s.ticks = timeTicks.map(v => ({ value: v })); },
        afterFit: s => { s.height = 23; zeroPad(s); },
        ticks: { autoSkip: false, maxRotation: 0, minRotation: 0, callback: (v, k) => timeLabels[k], font: { family: 'Liberation Sans', size: 10 }, color: '#000', padding: 6 },
        grid: { drawOnChartArea: false, tickLength: 5, tickColor: '#000', offset: false },
        border: { display: true, color: '#404040', width: 2 } },
      y: { type: 'linear', position: 'right', min: -37663, max: 61495, bounds: 'data',
        afterBuildTicks: s => { s.ticks = deltaTicks.map(v => ({ value: v })); },
        afterFit: s => { s.width = 50; zeroPad(s); },
        ticks: { autoSkip: false, callback: v => deltaLabels[String(v)] || '', font: { family: 'Liberation Sans', size: 10 }, color: '#000', padding: 7, labelOffset: -5 },
        grid: { drawOnChartArea: false, tickLength: 4, tickColor: '#000' },
        border: { display: true, color: '#000', width: 1 } }
    }
  },
  plugins: [botPlugin]
});
</script>
</body></html>
